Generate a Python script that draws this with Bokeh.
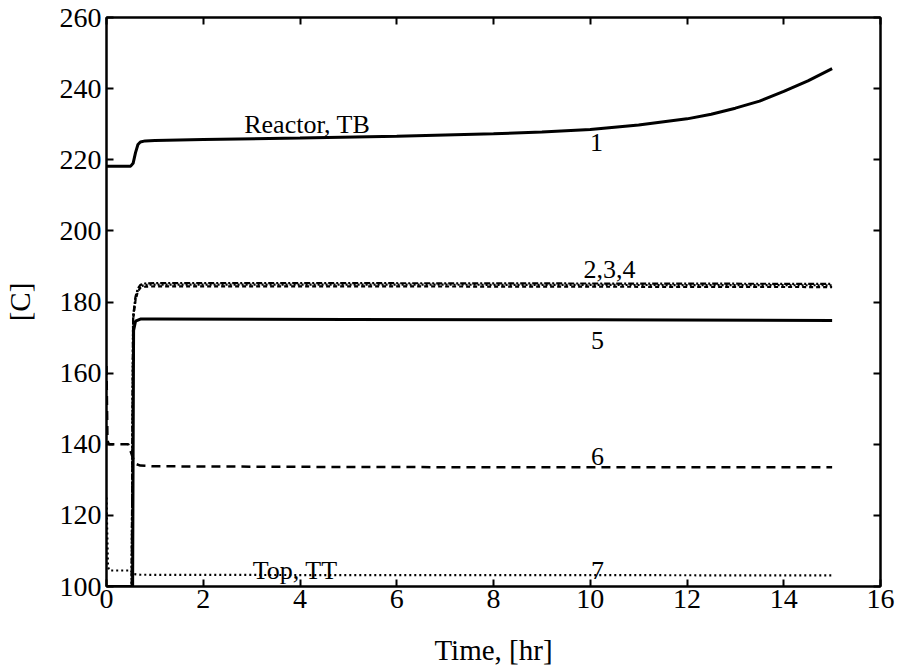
from bokeh.plotting import figure
from bokeh.models import Range1d, LinearAxis, FixedTicker, CustomJSTickFormatter
from bokeh.embed import file_html
from bokeh.resources import INLINE
from bokeh.core.properties import value

FONT = "Liberation Serif"

# Curve 1: Reactor, TB
t1 = [0, 0.5, 0.55, 0.6, 0.65, 0.7, 0.8, 1, 2, 4, 6, 8, 9, 10, 11, 12, 12.5, 13, 13.5, 14, 14.5, 15]
v1 = [218.2, 218.2, 219.0, 222.0, 224.3, 225.0, 225.3, 225.4, 225.7, 226.1, 226.6, 227.3, 227.8,
      228.5, 229.8, 231.5, 232.8, 234.5, 236.5, 239.2, 242.2, 245.6]

# Curves 2,3,4
t234 = [0, 0.52, 0.55, 0.6, 0.65, 0.7, 0.8, 1, 5, 10, 15]
v2 = [100, 100, 176.0, 181.5, 183.8, 184.8, 185.2, 185.3, 185.3, 185.2, 185.1]
v3 = [100, 100, 175.5, 181.0, 183.4, 184.4, 184.8, 184.9, 184.9, 184.8, 184.7]
v4 = [100, 100, 175.0, 180.5, 183.0, 184.0, 184.3, 184.4, 184.4, 184.3, 184.2]

# Curve 5
t5 = [0, 0.54, 0.56, 0.6, 0.7, 1, 5, 10, 15]
v5 = [100, 100, 172.0, 174.6, 175.2, 175.2, 175.1, 175.0, 174.8]

# Curve 6
t6 = [0, 0.02, 0.05, 0.45, 0.55, 0.6, 0.7, 1, 5, 10, 15]
v6 = [162, 141, 140, 140, 136.0, 134.5, 134.0, 133.8, 133.6, 133.5, 133.5]

# Curve 7: Top, TT
t7 = [0, 0.03, 0.06, 0.5, 0.55, 0.7, 5, 10, 15]
v7 = [125, 105.5, 104.5, 104.5, 103.5, 103.3, 103.2, 103.2, 103.1]

x_ticks = [0, 2, 4, 6, 8, 10, 12, 14, 16]
y_ticks = [100, 120, 140, 160, 180, 200, 220, 240, 260]

labels_text = ["Reactor, TB", "1", "2,3,4", "5", "6", "Top, TT", "7"]
labels_x = [4.15, 10.13, 10.4, 10.15, 10.15, 3.9, 10.15]
labels_y = [230.0, 224.8, 189.0, 169.3, 136.5, 104.5, 104.5]

p = figure(width=897, height=669, output_backend="svg", toolbar_location=None,
           x_range=Range1d(0, 16), y_range=Range1d(100, 260),
           min_border_left=106, min_border_right=17, min_border_top=17, min_border_bottom=83)
p.grid.visible = False
p.outline_line_color = "black"
p.outline_line_width = 2
p.background_fill_color = "white"
p.border_fill_color = "white"

for ax in (p.xaxis[0], p.yaxis[0]):
    ax.major_tick_in = 7
    ax.major_tick_out = 0
    ax.minor_tick_in = 0
    ax.minor_tick_out = 0
    ax.axis_line_width = 2
    ax.major_tick_line_width = 2
    ax.major_label_text_font = FONT
    ax.major_label_text_font_size = "28px"
    ax.major_label_text_color = "black"
    ax.axis_label_text_font = FONT
    ax.axis_label_text_font_size = "29px"
    ax.axis_label_text_font_style = "normal"
    ax.axis_label_text_color = "black"

p.xaxis[0].ticker = FixedTicker(ticks=x_ticks)
p.yaxis[0].ticker = FixedTicker(ticks=y_ticks)
p.xaxis[0].axis_label = "Time, [hr]"
p.yaxis[0].axis_label = "[C]"
p.xaxis[0].major_label_standoff = 3
p.yaxis[0].major_label_standoff = 5
p.xaxis[0].axis_label_standoff = 23
p.yaxis[0].axis_label_standoff = 21

blank = CustomJSTickFormatter(code="return '';")
for loc in ("right", "above"):
    ax = LinearAxis(ticker=FixedTicker(ticks=y_ticks if loc == "right" else x_ticks),
                    formatter=blank, major_tick_in=7, major_tick_out=0,
                    minor_tick_in=0, minor_tick_out=0, axis_line_width=2,
                    major_tick_line_width=2, major_label_standoff=0)
    p.add_layout(ax, loc)

p.line(t1, v1, line_color="black", line_width=3)
p.line(t234, v2, line_color="black", line_width=2.2, line_dash="6 2 2 2")
p.line(t234, v3, line_color="black", line_width=2.2, line_dash="2 2")
p.line(t234, v4, line_color="black", line_width=2.2, line_dash="4 3")
p.line(t5, v5, line_color="black", line_width=3)
p.line(t6, v6, line_color="black", line_width=2.5, line_dash="9 6")
p.line(t7, v7, line_color="black", line_width=2.2, line_dash="2 3")

p.text(x=labels_x, y=labels_y, text=labels_text, text_font=value(FONT),
       text_font_size="26px", text_align="center", text_baseline="middle",
       text_color="black")

open("out.html", "w").write(file_html(p, INLINE))
